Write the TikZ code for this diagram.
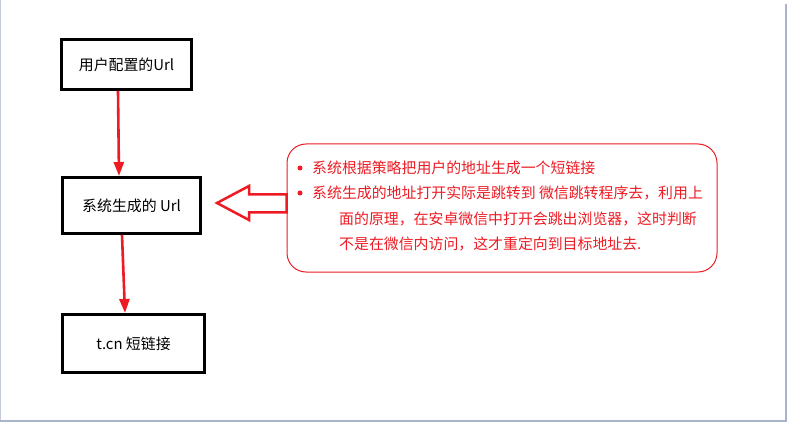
\documentclass[tikz,border=0pt]{standalone}
\usepackage{fontspec}
\setmainfont{Noto Sans CJK SC}
\usetikzlibrary{arrows.meta}
\definecolor{myred}{RGB}{237,28,36}
\definecolor{framegrey}{RGB}{170,180,200}
\begin{document}
\begin{tikzpicture}[x=1pt,y=-1pt,
  stepbox/.style={draw=black,line width=3pt,inner sep=0pt,font=\fontsize{14.9}{17}\selectfont},
  flowarrow/.style={draw=myred,line width=2.6pt,-{Triangle[length=14pt,width=10pt]}},
  notetext/.style={anchor=base west,inner sep=0pt,text=myred,font=\fontsize{14.9}{17}\selectfont},
  bulletdot/.style={circle,fill=myred,inner sep=0pt,minimum size=5pt}]
\useasboundingbox (0,0) rectangle (787,422);
\fill[white] (0,0) rectangle (787,422);
% frame lines
\draw[framegrey!70,line width=1.2pt] (0.6,0) -- (0.6,422);
\draw[framegrey,line width=2pt] (785.5,4) -- (785.5,422);
\draw[framegrey,line width=2pt] (0,421) -- (787,421);
% boxes
\node[stepbox,minimum width=130pt,minimum height=50pt] (box1) at (126.5,64.5) {用户配置的Url};
\node[stepbox,minimum width=138pt,minimum height=56pt] (box2) at (131.5,205.5) {系统生成的 Url};
\node[stepbox,minimum width=142pt,minimum height=58pt] (box3) at (133.5,343.5) {t.cn 短链接};
% arrows
\draw[flowarrow] (box1.south -| 118,0) -- (box2.north -| 119,0);
\draw[flowarrow] (box2.south -| 122,0) -- (box3.north -| 125,0);
% note box
\node[draw=myred,line width=1pt,rounded corners=19pt,minimum width=430pt,minimum height=128pt,inner sep=0pt] (note) at (502,208) {};
% hollow arrow
\coordinate (hatip) at (217,203);
\draw[myred,line width=2.5pt,line join=miter] (hatip) -- (249,186) -- (249,194.5) -- (note.west |- 0,194.5) -- (note.west |- 0,212.5) -- (249,212.5) -- (249,220) -- cycle;
% note text
\node[bulletdot] (b1) at (300,168) {};
\node[bulletdot] (b2) at (300,193) {};
\node[notetext] (t1) at (312,173.5) {系统根据策略把用户的地址生成一个短链接};
\node[notetext] (t2) at (312,199) {系统生成的地址打开实际是跳转到 微信跳转程序去，利用上};
\node[notetext] (t3) at (339,224.5) {面的原理，在安卓微信中打开会跳出浏览器，这时判断};
\node[notetext] (t4) at (339,249.5) {不是在微信内访问，这才重定向到目标地址去.};
\end{tikzpicture}
\end{document}
